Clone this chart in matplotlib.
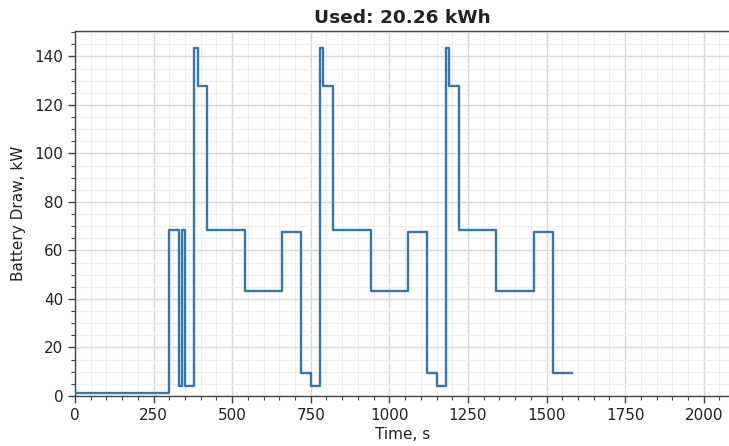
import numpy as np
import matplotlib
matplotlib.use("Agg")
import matplotlib.pyplot as plt
from matplotlib.ticker import MultipleLocator


# -----------------------------
# Data (step starts, kW held until next start)
# -----------------------------
times = [0, 300, 330, 340, 350, 380, 390, 420, 540, 660, 720, 750,
         780, 790, 820, 940, 1060, 1120, 1150,
         1180, 1190, 1220, 1340, 1460, 1520, 1580]
power_kw = [1.1, 68.6, 4.0, 68.6, 4.0, 143.5, 128.0, 68.6, 43.4, 67.7, 9.4, 4.0,
            143.5, 128.0, 68.6, 43.4, 67.7, 9.4, 4.0,
            143.5, 128.0, 68.6, 43.4, 67.7, 9.4, 9.4]
title_text = "Used: 20.26 kWh"


# -----------------------------
# Plot
# -----------------------------
fig = plt.figure(figsize=(7.29, 4.46), dpi=100)
ax = fig.add_axes([75 / 729, 1 - 396 / 446, 1 - 75 / 729 + 0.002, (396 - 31) / 446])

ax.step(times, power_kw, where="post", color="#3676aa", linewidth=1.7, zorder=3)

ax.set_xlim(0, 2085)
ax.set_ylim(0, 150.5)
ax.xaxis.set_major_locator(MultipleLocator(250))
ax.xaxis.set_minor_locator(MultipleLocator(50))
ax.yaxis.set_major_locator(MultipleLocator(20))
ax.yaxis.set_minor_locator(MultipleLocator(5))

ax.grid(which="major", color="#d9d9d9", linewidth=1.0, zorder=0)
ax.grid(which="minor", color="#efefef", linewidth=0.8, zorder=0)
ax.set_axisbelow(True)

for side in ["left", "bottom", "top"]:
    ax.spines[side].set_color("#444444")
    ax.spines[side].set_linewidth(1.0)
ax.spines["right"].set_visible(False)

ax.tick_params(which="major", direction="out", length=5, width=1.0,
               color="#444444", labelsize=11, labelcolor="#222222")
ax.tick_params(which="minor", direction="out", length=3, width=0.8, color="#444444")

ax.set_xlabel("Time, s", fontsize=11, color="#222222", labelpad=3)
ax.set_ylabel("Battery Draw, kW", fontsize=11, color="#222222", labelpad=6)
ax.set_title(title_text, fontsize=13.3, fontweight="bold", color="#222222", pad=6)

fig.savefig("out.png", dpi=100)
